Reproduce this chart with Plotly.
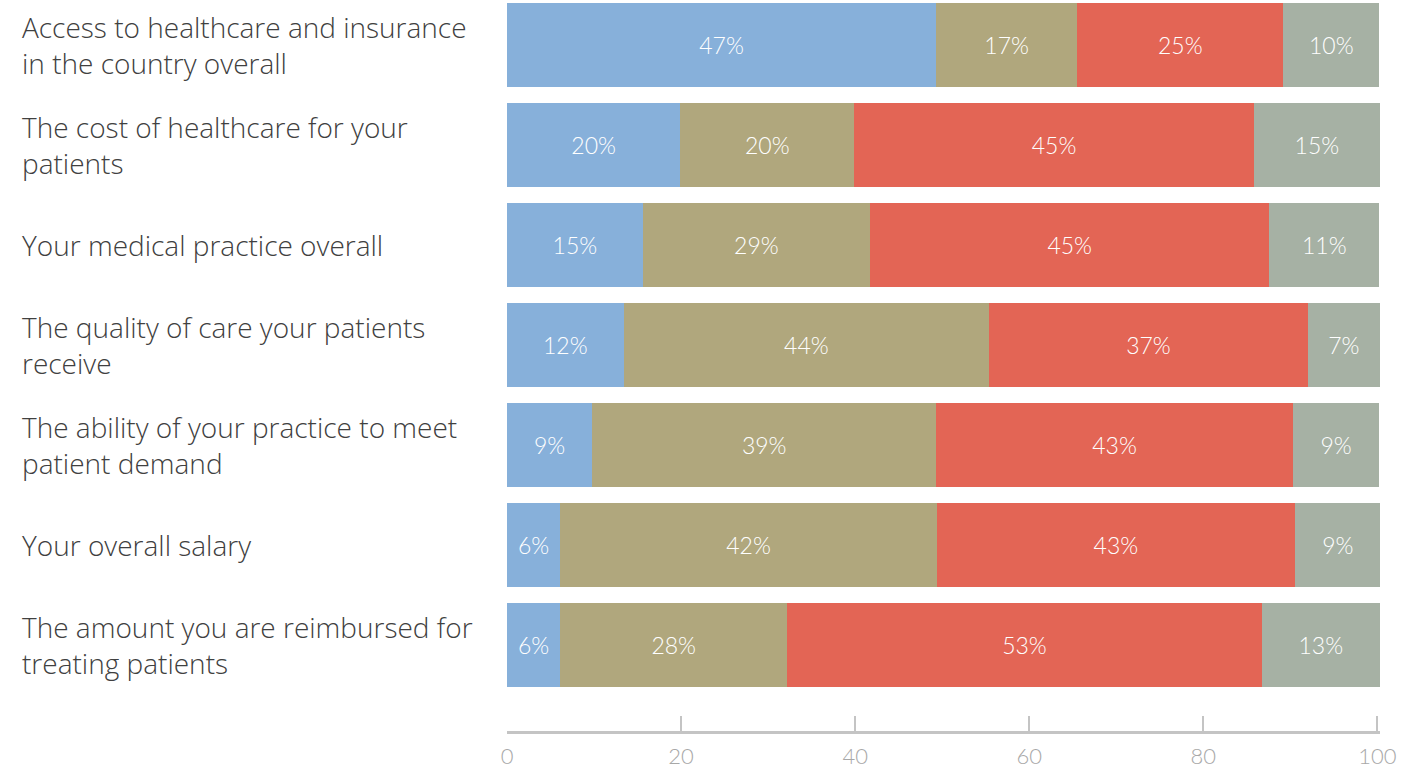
import plotly.graph_objects as go

categories = [
    "Access to healthcare and insurance<br>in the country overall",
    "The cost of healthcare for your<br>patients",
    "Your medical practice overall",
    "The quality of care your patients<br>receive",
    "The ability of your practice to meet<br>patient demand",
    "Your overall salary",
    "The amount you are reimbursed for<br>treating patients",
]

# bar lengths
seg1 = [49.3, 19.9, 15.6, 13.4, 9.8, 6.1, 6.1]
seg2 = [16.2, 20.0, 26.1, 42.0, 39.5, 43.3, 26.1]
seg3 = [23.7, 45.9, 45.9, 36.6, 41.0, 41.1, 54.5]
seg4 = [11.0, 14.5, 12.6, 8.3, 9.9, 9.9, 13.6]

# printed labels
lab1 = ["47%", "20%", "15%", "12%", "9%", "6%", "6%"]
lab2 = ["17%", "20%", "29%", "44%", "39%", "42%", "28%"]
lab3 = ["25%", "45%", "45%", "37%", "43%", "43%", "53%"]
lab4 = ["10%", "15%", "11%", "7%", "9%", "9%", "13%"]

x_ticks = [0, 20, 40, 60, 80, 100]

colors = ["#87B0DA", "#B0A77D", "#E36555", "#A6B1A4"]

keys = list(range(len(categories)))

fig = go.Figure()
for vals, labs, col in zip([seg1, seg2, seg3, seg4], [lab1, lab2, lab3, lab4], colors):
    fig.add_trace(go.Bar(
        y=keys, x=vals, orientation="h",
        marker=dict(color=col, line=dict(width=0)),
        text=labs, textposition="inside", insidetextanchor="middle",
        constraintext="none",
        textfont=dict(family="Lato", size=23, color="white", weight=300),
        hoverinfo="skip", showlegend=False,
    ))

W, H = 1417, 768
ml, mr, mt, mb = 507, 37, 0, 37
pw = W - ml - mr

for i, c in enumerate(categories):
    fig.add_annotation(
        text=c, xref="paper", yref="y", x=(20 - ml) / pw, y=i,
        xanchor="left", yanchor="middle", align="left", showarrow=False,
        font=dict(family="Open Sans", size=28, color="#404040", weight=300),
    )

fig.update_layout(
    width=W, height=H,
    margin=dict(l=ml, r=mr, t=mt, b=mb, autoexpand=False),
    barmode="stack", bargap=0.16,
    plot_bgcolor="white", paper_bgcolor="white",
    xaxis=dict(
        range=[0, 100.3], tickvals=x_ticks, ticks="inside", ticklen=15,
        tickwidth=2, tickcolor="#c4c4c4", showline=True, linecolor="#c4c4c4",
        linewidth=3, showgrid=False, zeroline=False, automargin=False,
        tickfont=dict(family="Lato", size=22, color="#a8a8a8", weight=300),
        ticklabelstandoff=4,
    ),
    yaxis=dict(
        range=[6.865, -0.445], showticklabels=False, showgrid=False,
        zeroline=False, showline=False, ticks="", automargin=False,
    ),
)

fig.write_html("out.html", config={"displayModeBar": False},
               post_script="document.body.style.margin='0';document.body.style.overflow='hidden';")
